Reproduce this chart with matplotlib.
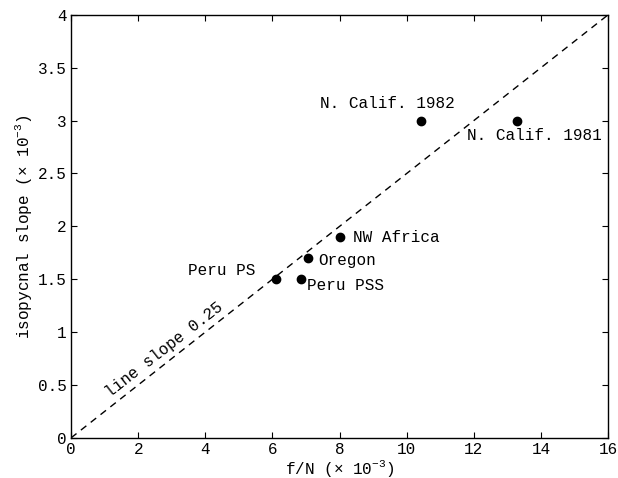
import matplotlib
matplotlib.use("Agg")
import matplotlib.pyplot as plt

plt.rcParams['font.family'] = ['Liberation Mono', 'DejaVu Sans Mono']
plt.rcParams['mathtext.fontset'] = 'custom'
plt.rcParams['mathtext.rm'] = 'Liberation Mono'

# data (x 10^-3)
names = ['Peru PS', 'Peru PSS', 'Oregon', 'NW Africa', 'N. Calif. 1982', 'N. Calif. 1981']
fN = [6.1, 6.85, 7.05, 8.0, 10.43, 13.3]
slope = [1.5, 1.5, 1.7, 1.9, 3.0, 3.0]
# where each label sits (left edge, baseline)
label_x = [3.49, 7.03, 7.36, 8.40, 7.42, 11.8]
label_y = [1.54, 1.40, 1.636, 1.853, 3.12, 2.82]
line_x = [0, 16]
line_slope = 0.25

fs = 11.5
fig = plt.figure(figsize=(6.18, 4.78), dpi=100)
ax = fig.add_axes([0.115, 0.084, 0.869, 0.885])

ax.plot(line_x, [v * line_slope for v in line_x], color='black', lw=1, dashes=(5, 4))
ax.plot(fN, slope, 'o', color='black', markersize=6)
for n, x, y in zip(names, label_x, label_y):
    ax.text(x, y, n, ha='left', va='baseline', fontsize=fs)
ax.text(2.77, 0.83, 'line slope 0.25', rotation=38, ha='center', va='center', fontsize=fs)

ax.set_xlim(0, 16)
ax.set_ylim(0, 4)
ax.set_xticks(range(0, 17, 2))
ax.set_yticks([0, 0.5, 1, 1.5, 2, 2.5, 3, 3.5, 4])
ax.set_yticklabels(['0', '0.5', '1', '1.5', '2', '2.5', '3', '3.5', '4'])
ax.tick_params(direction='in', top=True, right=True, labelsize=fs, length=4,
               color='black', pad=3)
for s in ax.spines.values():
    s.set_linewidth(1)
ax.set_xlabel('f/N (\u00d7 10$^{-3}$)', fontsize=fs, labelpad=1)
ax.set_ylabel('isopycnal slope (\u00d7 10$^{-3}$)', fontsize=fs, labelpad=3)

fig.savefig('out.png', dpi=100)
